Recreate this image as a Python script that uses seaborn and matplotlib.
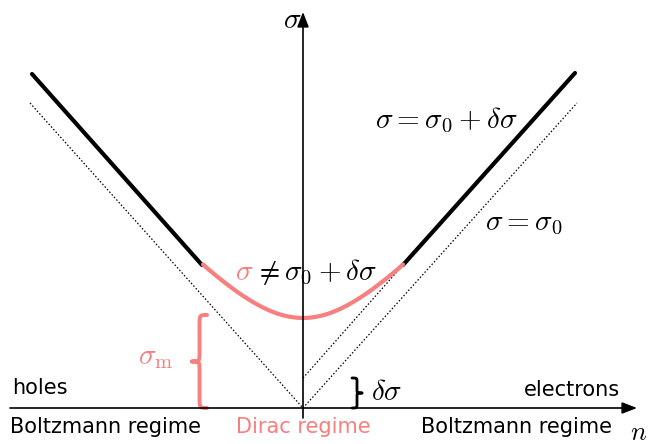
import matplotlib
matplotlib.use("Agg")
import matplotlib.pyplot as plt
from matplotlib.path import Path
from matplotlib.patches import PathPatch
import seaborn as sns
import numpy as np

sns.set_style("white")
plt.rcParams['font.family'] = ['DejaVu Sans']
plt.rcParams['mathtext.fontset'] = 'cm'
plt.rcParams['text.color'] = 'black'

PINK = '#f77f7f'

# conductivity sketch, values (n, sigma in arbitrary units)
n_left = [-2.71, -1.01]
sig_left = [3.34, 1.43]
n_right = [1.00, 2.72]
sig_right = [1.43, 3.35]

# Dirac region (pink curve)
n_dirac = [-1.00, -0.95, -0.90, -0.85, -0.80, -0.75, -0.70, -0.65, -0.60, -0.55,
           -0.50, -0.45, -0.40, -0.35, -0.30, -0.25, -0.20, -0.15, -0.10, -0.05,
           0.00, 0.05, 0.10, 0.15, 0.20, 0.25, 0.30, 0.35, 0.40, 0.45,
           0.50, 0.55, 0.60, 0.65, 0.70, 0.75, 0.80, 0.85, 0.90, 0.95, 1.00]
sig_dirac = [1.435, 1.391, 1.349, 1.308, 1.268, 1.230, 1.192, 1.156, 1.122, 1.090,
             1.059, 1.031, 1.005, 0.981, 0.960, 0.942, 0.927, 0.916, 0.907, 0.902,
             0.900, 0.902, 0.907, 0.916, 0.927, 0.942, 0.960, 0.981, 1.005, 1.031,
             1.059, 1.090, 1.122, 1.156, 1.192, 1.230, 1.268, 1.308, 1.349, 1.391,
             1.435]

# sigma = sigma_0 reference lines (dotted)
n_s0_left = [-2.73, 0.0]
s0_left = [3.05, 0.0]
n_s0_right = [0.0, 2.74]
s0_right = [0.0, 3.05]
# sigma_0 + delta sigma asymptote
n_asym = [0.0, 1.0]
asym = [0.30, 1.43]

sigma_m = 0.90
delta_sigma = 0.30


def brace(ax, xb, y0, y1, w, color, lw):
    # curly brace along y, ends at xb, tip at xb - w
    h = y1 - y0
    ym = (y0 + y1) / 2
    xs = xb - w / 2
    xt = xb - w
    verts = [(xb, y0),
             (xs, y0), (xs, y0), (xs, y0 + h * 0.12),
             (xs, ym - h * 0.1),
             (xs, ym), (xs, ym), (xt, ym),
             (xs, ym), (xs, ym), (xs, ym + h * 0.1),
             (xs, y1 - h * 0.12),
             (xs, y1), (xs, y1), (xb, y1)]
    codes = [Path.MOVETO,
             Path.CURVE4, Path.CURVE4, Path.CURVE4,
             Path.LINETO,
             Path.CURVE4, Path.CURVE4, Path.CURVE4,
             Path.CURVE4, Path.CURVE4, Path.CURVE4,
             Path.LINETO,
             Path.CURVE4, Path.CURVE4, Path.CURVE4]
    ax.add_patch(PathPatch(Path(verts, codes), fill=False, edgecolor=color,
                           lw=lw, capstyle='round', joinstyle='round'))


fig = plt.figure(figsize=(6.49, 4.44), dpi=100)
ax = fig.add_axes([0, 0, 1, 1])
ax.set_xlim(-3.03, 3.46)
ax.set_ylim(-0.36, 4.08)
ax.axis('off')

# dotted guides
for xs, ys in [(n_s0_left, s0_left), (n_s0_right, s0_right), (n_asym, asym)]:
    sns.lineplot(x=xs, y=ys, ax=ax, color='k', lw=0.9, linestyle=(0, (1.2, 1.6)),
                 sort=False)

# thick branches
sns.lineplot(x=n_left, y=sig_left, ax=ax, color='k', lw=3.0, sort=False)
sns.lineplot(x=n_right, y=sig_right, ax=ax, color='k', lw=3.0, sort=False)
sns.lineplot(x=n_dirac, y=sig_dirac, ax=ax, color=PINK, lw=3.0, sort=False)

# axes arrows
arr = dict(arrowstyle='-|>,head_length=0.9,head_width=0.35', lw=1.2, color='k',
           shrinkA=0, shrinkB=0)
ax.annotate('', xy=(3.34, 0), xytext=(-2.93, 0), arrowprops=arr)
ax.annotate('', xy=(0, 3.96), xytext=(0, -0.10), arrowprops=arr)

# braces
brace(ax, -0.96, 0.0, sigma_m + 0.03, 0.15, PINK, 2.8)
brace(ax, 0.49, 0.0, delta_sigma, -0.10, 'k', 2.0)

# math labels
fs = 21
ax.text(-0.11, 3.88, r'$\sigma$', fontsize=fs, ha='center', va='center')
ax.text(3.36, -0.245, r'$n$', fontsize=fs - 2, ha='center', va='center')
ax.text(0.72, 2.88, r'$\sigma=\sigma_0+\delta\sigma$', fontsize=fs,
        ha='left', va='center')
ax.text(1.82, 1.85, r'$\sigma=\sigma_0$', fontsize=fs, ha='left', va='center')
ax.text(-0.68, 1.36, r'$\sigma$', fontsize=fs, ha='left', va='center', color=PINK)
ax.text(-0.49, 1.36, r'$\neq\sigma_0+\delta\sigma$', fontsize=fs,
        ha='left', va='center')
ax.text(-1.65, 0.51, r'$\sigma_{\rm m}$', fontsize=fs, ha='left', va='center',
        color=PINK)
ax.text(0.68, 0.16, r'$\delta\sigma$', fontsize=fs, ha='left', va='center')

# regime labels
tfs = 15
ax.text(-2.91, 0.20, 'holes', fontsize=tfs, ha='left', va='center')
ax.text(3.17, 0.18, 'electrons', fontsize=tfs, ha='right', va='center')
ax.text(-2.93, -0.19, 'Boltzmann regime', fontsize=tfs, ha='left', va='center')
ax.text(0.0, -0.19, 'Dirac regime', fontsize=tfs, ha='center', va='center',
        color=PINK)
ax.text(3.09, -0.19, 'Boltzmann regime', fontsize=tfs, ha='right', va='center')

fig.savefig('out.png', dpi=100)
